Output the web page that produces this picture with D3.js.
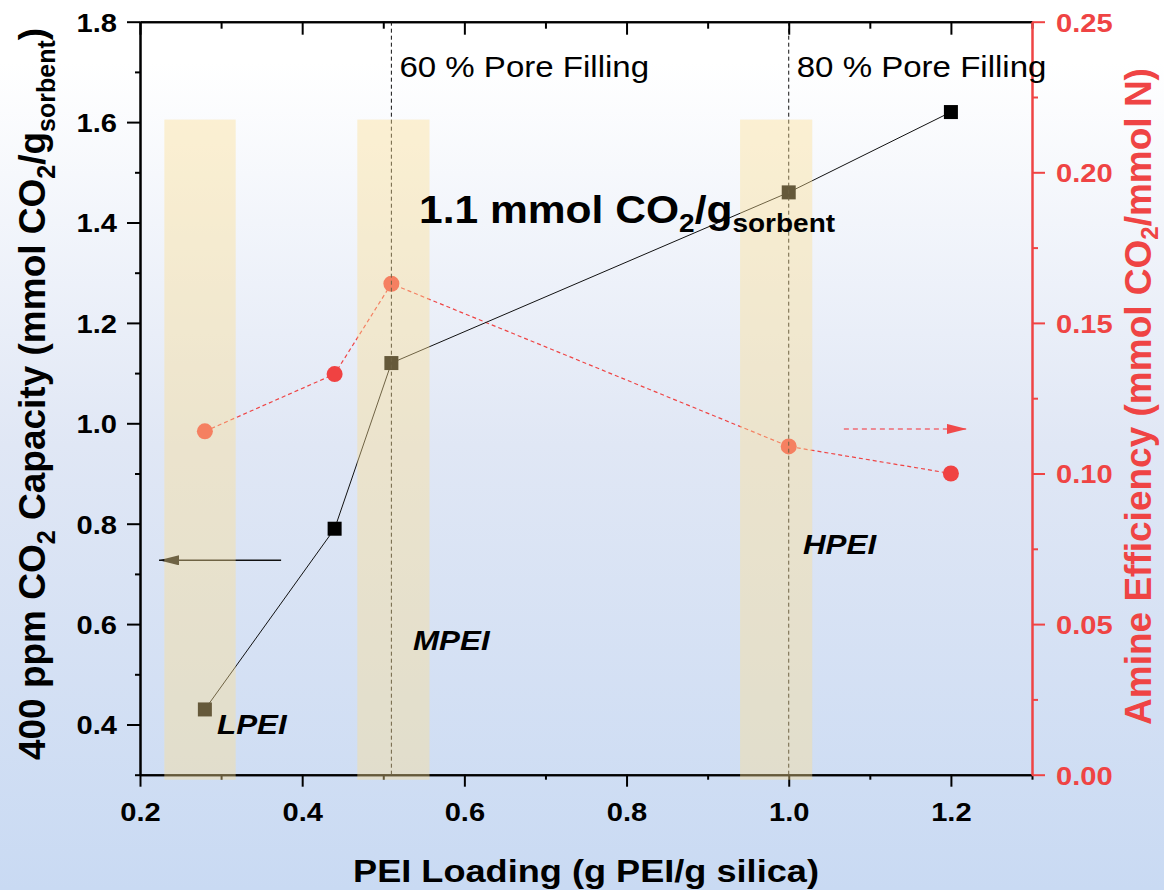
<!DOCTYPE html>
<html lang="en">
<head>
  <meta charset="UTF-8" />
  <script src="https://cdn.jsdelivr.net/npm/d3@7/dist/d3.min.js"></script>
  <title>PEI loading</title>
  <style>
    body { margin: 0; }
    svg text { font-family: "Liberation Sans", Arial, sans-serif; }
  </style>
</head>
<body>
  <svg width="1164" height="890"></svg>
  <script>
    // data
    const loading = [0.28, 0.44, 0.51, 1.0, 1.2];
    const capacity = [0.43, 0.79, 1.12, 1.46, 1.62];
    const efficiency = [0.114, 0.133, 0.163, 0.109, 0.100];

    const xMajor = [0.2, 0.4, 0.6, 0.8, 1.0, 1.2];
    const xMinor = [0.3, 0.5, 0.7, 0.9, 1.1, 1.3];
    const leftMajor = [0.4, 0.6, 0.8, 1.0, 1.2, 1.4, 1.6, 1.8];
    const leftMinor = [0.3, 0.5, 0.7, 0.9, 1.1, 1.3, 1.5, 1.7];
    const rightMajor = [0, 0.05, 0.10, 0.15, 0.20, 0.25];
    const rightMinor = [0.025, 0.075, 0.125, 0.175, 0.225];

    const bandLo = [0.23, 0.468, 0.94];
    const bandHi = [0.318, 0.557, 1.029];
    const poreX = [0.51, 1.0];
    const poreLabels = ["60 % Pore Filling", "80 % Pore Filling"];
    const peiTypes = ["LPEI", "MPEI", "HPEI"];

    const svg = d3.select("svg");
    const width = +svg.attr("width");
    const height = +svg.attr("height");
    const SX = 1.12; // horizontal text stretch seen in the figure
    const RED = "#ef4444";

    const pLeft = 140, pRight = 1032, pTop = 21.7, pBottom = 774.7;
    const x = d3.scaleLinear().domain([0.2, 1.3]).range([pLeft, pRight]);
    const yL = d3.scaleLinear().domain([0.3, 1.8]).range([pBottom, pTop]);
    const yR = d3.scaleLinear().domain([0, 0.25]).range([pBottom, pTop]);

    // background
    const defs = svg.append("defs");
    const grad = defs.append("linearGradient")
      .attr("id", "bg").attr("x1", 0).attr("y1", 0).attr("x2", 0).attr("y2", 1);
    grad.append("stop").attr("offset", "0%").attr("stop-color", "#ffffff");
    grad.append("stop").attr("offset", "7%").attr("stop-color", "#ffffff");
    grad.append("stop").attr("offset", "50%").attr("stop-color", "#e0e7f5");
    grad.append("stop").attr("offset", "100%").attr("stop-color", "#c9daf3");
    svg.append("rect").attr("width", width).attr("height", height).attr("fill", "url(#bg)");

    defs.append("marker").attr("id", "headL").attr("viewBox", "0 0 20 10")
      .attr("refX", 20).attr("refY", 5).attr("markerWidth", 20).attr("markerHeight", 10)
      .attr("markerUnits", "userSpaceOnUse").attr("orient", "auto")
      .append("path").attr("d", "M0,0 L20,5 L0,10 Z").attr("fill", "#111");
    defs.append("marker").attr("id", "headR").attr("viewBox", "0 0 20 10")
      .attr("refX", 20).attr("refY", 5).attr("markerWidth", 20).attr("markerHeight", 10)
      .attr("markerUnits", "userSpaceOnUse").attr("orient", "auto")
      .append("path").attr("d", "M0,0 L20,5 L0,10 Z").attr("fill", "#f04a4a");

    // axes
    const styleAxis = (g, color) => {
      g.select(".domain").attr("stroke", color).attr("stroke-width", 2);
      g.selectAll(".tick line").attr("stroke", color).attr("stroke-width", 2);
      g.selectAll("text").attr("fill", color).style("font-size", "26px").style("font-weight", "bold");
    };

    const gx = svg.append("g").attr("transform", `translate(0,${pBottom})`);
    gx.append("g").call(d3.axisBottom(x).tickValues(xMinor).tickSize(5).tickFormat("").tickSizeOuter(0))
      .call(g => styleAxis(g, "#000"));
    gx.append("g").call(d3.axisBottom(x).tickValues(xMajor).tickSize(12).tickFormat(d3.format(".1f")).tickSizeOuter(0))
      .call(g => styleAxis(g, "#000"))
      .call(g => g.selectAll("text").attr("y", 46).attr("dy", 0).attr("transform", `scale(${SX},1)`));

    const gt = svg.append("g").attr("transform", `translate(0,${pTop})`);
    gt.append("g").call(d3.axisTop(x).tickValues(xMinor).tickSize(-7).tickFormat("").tickSizeOuter(0))
      .call(g => styleAxis(g, "#000"));
    gt.append("g").call(d3.axisTop(x).tickValues(xMajor).tickSize(-13).tickFormat("").tickSizeOuter(0))
      .call(g => styleAxis(g, "#000"));

    const gl = svg.append("g").attr("transform", `translate(${pLeft},0)`);
    gl.append("g").call(d3.axisLeft(yL).tickValues(leftMinor).tickSize(5).tickFormat("").tickSizeOuter(0))
      .call(g => styleAxis(g, "#000"));
    gl.append("g").call(d3.axisLeft(yL).tickValues(leftMajor).tickSize(13).tickFormat(d3.format(".1f")).tickSizeOuter(0))
      .call(g => styleAxis(g, "#000"))
      .call(g => g.selectAll("text").attr("x", -23 / SX).attr("dy", "0.36em").attr("transform", `scale(${SX},1)`));

    const gr = svg.append("g").attr("transform", `translate(${pRight},0)`);
    gr.append("g").call(d3.axisRight(yR).tickValues(rightMinor).tickSize(6).tickFormat("").tickSizeOuter(0))
      .call(g => styleAxis(g, RED));
    gr.append("g").call(d3.axisRight(yR).tickValues(rightMajor).tickSize(13).tickFormat(d3.format(".2f")).tickSizeOuter(0))
      .call(g => styleAxis(g, RED))
      .call(g => g.selectAll("text").attr("x", 24 / SX).attr("dy", "0.36em").attr("transform", `scale(${SX},1)`));

    // series
    const pts = loading.map((v, i) => ({ x: v, cap: capacity[i], eff: efficiency[i] }));

    svg.append("path").datum(pts)
      .attr("fill", "none").attr("stroke", RED).attr("stroke-width", 1.2)
      .attr("stroke-dasharray", "4,3")
      .attr("d", d3.line().x(d => x(d.x)).y(d => yR(d.eff)));
    svg.append("path").datum(pts)
      .attr("fill", "none").attr("stroke", "#111").attr("stroke-width", 1)
      .attr("d", d3.line().x(d => x(d.x)).y(d => yL(d.cap)));

    svg.selectAll(".eff").data(pts).enter().append("circle")
      .attr("cx", d => x(d.x)).attr("cy", d => yR(d.eff)).attr("r", 8).attr("fill", "#f04242");
    svg.selectAll(".cap").data(pts).enter().append("rect")
      .attr("x", d => x(d.x) - 7).attr("y", d => yL(d.cap) - 7)
      .attr("width", 14).attr("height", 14).attr("fill", "#000");

    // pore filling guides
    svg.selectAll(".pore").data(poreX).enter().append("line")
      .attr("x1", d => x(d)).attr("x2", d => x(d)).attr("y1", pTop).attr("y2", pBottom)
      .attr("stroke", "#111").attr("stroke-width", 1).attr("stroke-dasharray", "4,3");

    // axis arrows
    svg.append("line")
      .attr("x1", x(0.374)).attr("x2", x(0.2235)).attr("y1", yL(0.727)).attr("y2", yL(0.727))
      .attr("stroke", "#111").attr("stroke-width", 1.5).attr("marker-end", "url(#headL)");
    svg.append("line")
      .attr("x1", x(1.068)).attr("x2", x(1.2198)).attr("y1", yR(0.1148)).attr("y2", yR(0.1148))
      .attr("stroke", "#f06b74").attr("stroke-width", 1.5).attr("stroke-dasharray", "5,4")
      .attr("marker-end", "url(#headR)");

    // PEI bands (translucent overlay)
    svg.selectAll(".band").data(bandLo).enter().append("rect")
      .attr("x", d => x(d)).attr("width", (d, i) => x(bandHi[i]) - x(d))
      .attr("y", yL(1.605)).attr("height", yL(0.29) - yL(1.605))
      .attr("fill", "rgb(252,222,145)").attr("fill-opacity", 0.4);

    // text helper: horizontal text stretched like the original
    const label = (px, py, size, weight, style) => svg.append("text")
      .attr("transform", `translate(${px},${py}) scale(${SX},1)`)
      .style("font-size", size + "px").style("font-weight", weight).style("font-style", style || "normal");

    poreX.forEach((p, i) => label(x(p) + 8, 76.7, 29.5, "normal").text(poreLabels[i]));

    const lblPos = [[0.295, 0.381], [0.5366, 0.548], [1.0175, 0.740]];
    peiTypes.forEach((t, i) => label(x(lblPos[i][0]), yL(lblPos[i][1]), 28, "bold", "italic").text(t));

    const big = label(419, 223, 38, "bold");
    big.append("tspan").text("1.1 mmol CO");
    big.append("tspan").attr("dy", 9).style("font-size", "25px").text("2");
    big.append("tspan").attr("dy", -9).text("/g");
    big.append("tspan").attr("dy", 9).style("font-size", "25px").text("sorbent");

    // axis titles
    svg.append("text")
      .attr("transform", `translate(586,881.7) scale(1.13,1)`)
      .attr("text-anchor", "middle")
      .style("font-size", "32px").style("font-weight", "bold")
      .text("PEI Loading (g PEI/g silica)");

    const lt = svg.append("text")
      .attr("transform", "translate(45,394) rotate(-90)")
      .attr("text-anchor", "middle")
      .style("font-size", "37px").style("font-weight", "bold");
    lt.append("tspan").text("400 ppm CO");
    lt.append("tspan").attr("dy", 10).style("font-size", "25px").text("2");
    lt.append("tspan").attr("dy", -10).text(" Capacity (mmol CO");
    lt.append("tspan").attr("dy", 10).style("font-size", "25px").text("2");
    lt.append("tspan").attr("dy", -10).text("/g");
    lt.append("tspan").attr("dy", 10).style("font-size", "25px").text("sorbent");
    lt.append("tspan").attr("dy", -10).text(")");

    const rt = svg.append("text")
      .attr("transform", "translate(1151,396.5) rotate(-90)")
      .attr("text-anchor", "middle").attr("fill", RED)
      .style("font-size", "37px").style("font-weight", "bold");
    rt.append("tspan").text("Amine Efficiency (mmol CO");
    rt.append("tspan").attr("dy", 7).style("font-size", "24px").text("2");
    rt.append("tspan").attr("dy", -7).text("/mmol N)");
  </script>
</body>
</html>
